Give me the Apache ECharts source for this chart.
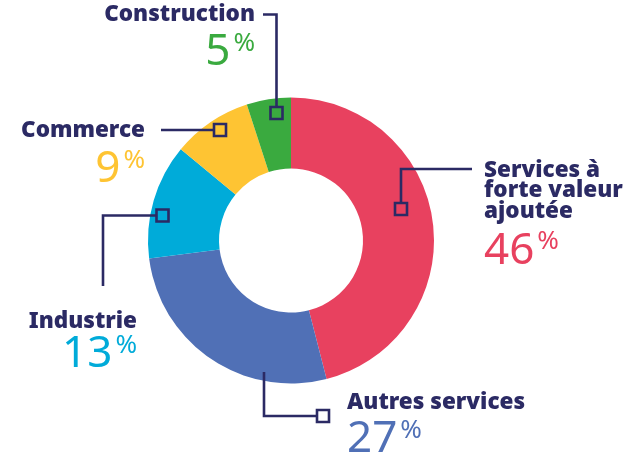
<!DOCTYPE html>
<html>
<head>
<meta charset="utf-8">
<title>Répartition par secteur</title>
<script src="https://cdn.jsdelivr.net/npm/echarts@6/dist/echarts.min.js"></script>
<style>
  html, body { margin: 0; padding: 0; background: #ffffff; }
  #chart { width: 640px; height: 468px; }
</style>
</head>
<body>
<div id="chart"></div>
<script>
// Sector shares (percent), clockwise from 12 o'clock
const sectors = ['Services à\nforte valeur\najoutée', 'Autres services', 'Industrie', 'Commerce', 'Construction'];
const shares = [46, 27, 13, 9, 5];
const sectorColors = ['#E8415F', '#5070B6', '#00ABD9', '#FEC433', '#3AAA3F'];

const NAVY = '#2B2A64';
const LABEL_FONT = '"Noto Sans", "DejaVu Sans", sans-serif';

// Annotation layout for each sector: text anchor, alignment, leader path and marker
const annotations = [
  { x: 484, nameTop: 160, valueTop: 229, align: 'left',
    path: [[472, 169], [401, 169], [401, 203]], marker: [401, 209] },
  { x: 347, nameTop: 392, valueTop: 417.5, align: 'left',
    path: [[264, 372], [264, 416], [317, 416]], marker: [323, 416] },
  { x: 137, nameTop: 311, valueTop: 332.5, align: 'right',
    path: [[103, 286], [103, 215.5], [156, 215.5]], marker: [162.5, 215.5] },
  { x: 145, nameTop: 120, valueTop: 147.5, align: 'right',
    path: [[161, 130], [214, 130]], marker: [220, 130] },
  { x: 255, nameTop: 4.3, valueTop: 30.7, align: 'right',
    path: [[263, 14.5], [276.5, 14.5], [276.5, 107]], marker: [276.5, 113] }
];

const MARKER = 12;
const graphics = [];
annotations.forEach(function (a, i) {
  graphics.push({
    type: 'polyline', z: 10, silent: true,
    shape: { points: a.path },
    style: { stroke: NAVY, lineWidth: 2.6, fill: null, lineJoin: 'miter' }
  });
  graphics.push({
    type: 'rect', z: 10, silent: true,
    shape: { x: a.marker[0] - MARKER / 2, y: a.marker[1] - MARKER / 2, width: MARKER, height: MARKER },
    style: { stroke: NAVY, lineWidth: 2.6, fill: null }
  });
  graphics.push({
    type: 'text', z: 10, silent: true,
    style: {
      x: a.x, y: a.nameTop, text: sectors[i],
      align: a.align, verticalAlign: 'top',
      fill: NAVY, font: '900 22.5px ' + LABEL_FONT, lineHeight: 20.5
    }
  });
  graphics.push({
    type: 'text', z: 10, silent: true,
    style: {
      x: a.x, y: a.valueTop,
      text: '{v|' + shares[i] + '}{p|%}',
      align: a.align, verticalAlign: 'top',
      rich: {
        v: { fontFamily: LABEL_FONT, fontWeight: 400, fontSize: 44, lineHeight: 44, fill: sectorColors[i], color: sectorColors[i] },
        p: { fontFamily: LABEL_FONT, fontWeight: 400, fontSize: 26, lineHeight: 26, verticalAlign: 'top', padding: [0, 0, 0, 3], fill: sectorColors[i], color: sectorColors[i] }
      }
    }
  });
});

const chart = echarts.init(document.getElementById('chart'), null, { renderer: 'canvas' });
chart.setOption({
  animation: false,
  backgroundColor: '#ffffff',
  series: [{
    type: 'pie',
    center: [291, 240.5],
    radius: [72, 143],
    startAngle: 90,
    clockwise: true,
    silent: true,
    label: { show: false },
    labelLine: { show: false },
    itemStyle: { borderWidth: 0 },
    data: sectors.map(function (name, i) {
      return { name: name, value: shares[i], itemStyle: { color: sectorColors[i] } };
    })
  }],
  graphic: graphics
});
</script>
</body>
</html>
